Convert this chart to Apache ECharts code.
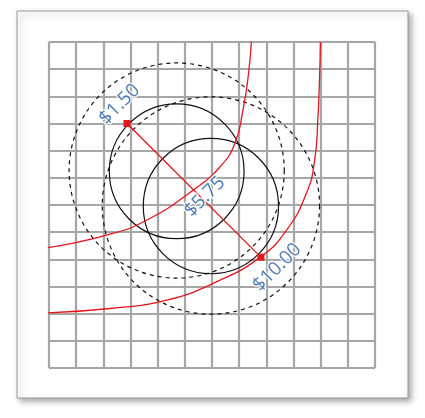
<!DOCTYPE html>
<html>
<head>
<meta charset="utf-8">
<script src="https://cdn.jsdelivr.net/npm/echarts@6/dist/echarts.min.js"></script>
<style>body{margin:0;background:#fff}#chart{width:425px;height:418px}</style>
</head>
<body>
<div id="chart"></div>
<script>
// red indifference curves (grid units)
var curveLow = [[-0.09,4.42],[2.12,4.89],[3.59,5.44],[5.34,6.57],[6.29,7.40],[6.84,8.26],[7.14,9.49],[7.33,10.71],[7.45,12.0]];
var curveHigh = [[-0.09,2.03],[2.24,2.19],[4.33,2.5],[6.16,3.17],[7.79,4.09],[8.74,5.07],[9.47,6.42],[9.78,7.65],[9.90,9.24],[9.96,10.71],[9.99,12.0]];
// circles: centre x, centre y, radius, dashed
var circles = [[4.7,7.24,2.48,0],[5.96,5.96,2.49,0],[4.7,7.27,3.96,1],[5.96,5.98,4.0,1]];
// price points and labels
var pricePoints = [[2.87,9.0],[7.8,4.08]];
var priceLabels = [[2.6,9.7,'$1.50'],[5.74,6.3,'$5.75'],[8.4,3.7,'$10.00']];

var chart = echarts.init(document.getElementById('chart'));
chart.setOption({
  animation: false,
  graphic: [{
    type: 'rect', z: -10,
    shape: {x: 17, y: 11, width: 391, height: 387},
    style: {fill: '#fff', stroke: '#999', lineWidth: 1, shadowBlur: 6, shadowOffsetX: 3, shadowOffsetY: 3, shadowColor: 'rgba(0,0,0,0.35)'}
  }],
  grid: {left: 49, top: 42, width: 326, height: 326},
  xAxis: {type: 'value', min: 0, max: 12, interval: 1, axisLabel: {show: false}, axisTick: {show: false},
    axisLine: {show: false}, splitLine: {lineStyle: {color: '#a6a6a6', width: 2.2}}},
  yAxis: {type: 'value', min: 0, max: 12, interval: 1, axisLabel: {show: false}, axisTick: {show: false},
    axisLine: {show: false}, splitLine: {lineStyle: {color: '#a6a6a6', width: 2.2}}},
  series: [
    {type: 'custom', data: circles, clip: false, renderItem: function (params, api) {
      var c = api.coord([api.value(0), api.value(1)]);
      var r = api.size([api.value(2), 0])[0];
      return {type: 'circle', shape: {cx: c[0], cy: c[1], r: r},
        style: {fill: 'none', stroke: '#111', lineWidth: 1.2, lineDash: api.value(3) ? [4, 4] : null}};
    }},
    {type: 'line', data: curveLow, smooth: true, showSymbol: false, lineStyle: {color: '#e8141b', width: 1.3}},
    {type: 'line', data: curveHigh, smooth: true, showSymbol: false, lineStyle: {color: '#e8141b', width: 1.3}},
    {type: 'line', data: pricePoints, symbol: 'rect', symbolSize: 7, itemStyle: {color: '#e8141b'},
      lineStyle: {color: '#e8141b', width: 1.3}},
    {type: 'scatter', data: priceLabels, symbolSize: 0, z: 10,
      label: {show: true, position: 'inside', rotate: 45, formatter: function (p) { return p.value[2]; },
        fontFamily: 'Open Sans', fontSize: 19, color: '#1f5aa6', textBorderColor: '#fff', textBorderWidth: 3}}
  ]
});
</script>
</body>
</html>
